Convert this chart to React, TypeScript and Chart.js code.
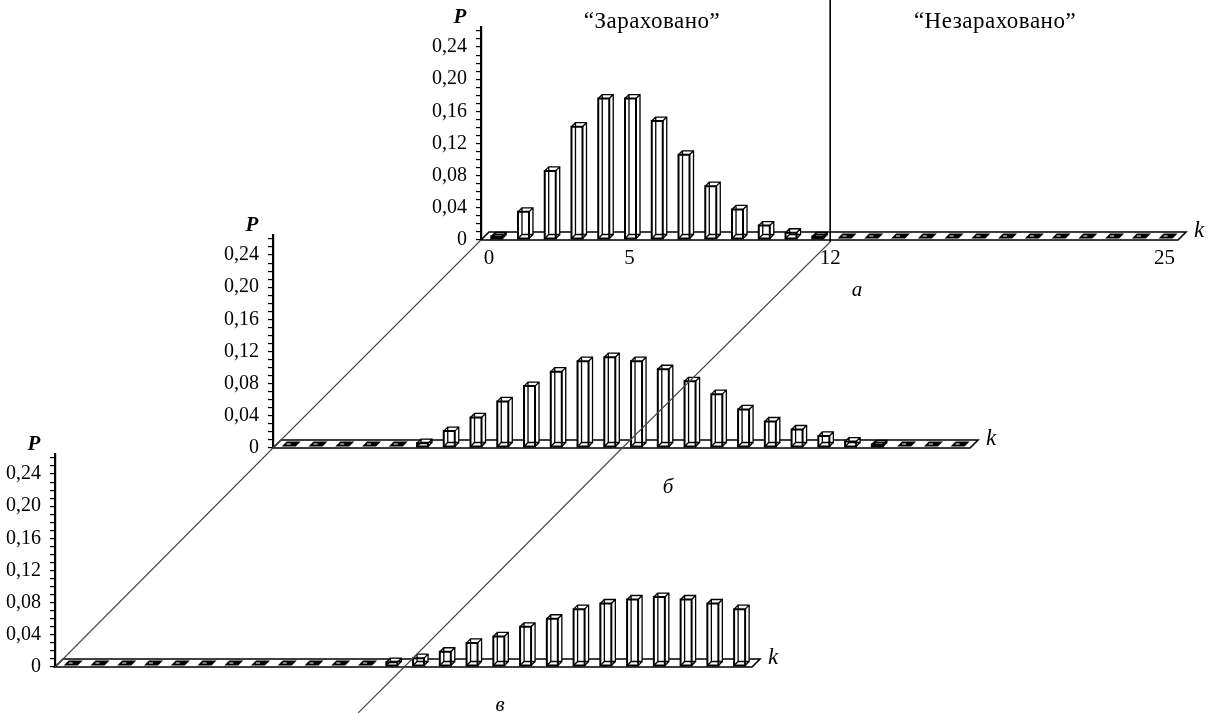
import React, { useEffect, useRef } from 'react';
import { Chart, registerables } from 'chart.js';

Chart.register(...registerables);

// ---------- data ----------
const K_VALUES = [0, 1, 2, 3, 4, 5, 6, 7, 8, 9, 10, 11, 12, 13, 14, 15, 16, 17, 18, 19, 20, 21, 22, 23, 24, 25];

const P_A = [0.004, 0.035, 0.086, 0.141, 0.176, 0.176, 0.148, 0.106, 0.067, 0.038, 0.018, 0.009, 0.002, 0, 0, 0, 0, 0, 0, 0, 0, 0, 0, 0, 0, 0];
const P_B = [0, 0, 0, 0, 0, 0.006, 0.021, 0.038, 0.058, 0.077, 0.095, 0.108, 0.113, 0.108, 0.098, 0.083, 0.067, 0.048, 0.033, 0.023, 0.015, 0.008, 0.003, 0, 0, 0];
const P_V = [0, 0, 0, 0, 0, 0, 0, 0, 0, 0, 0, 0, 0.006, 0.011, 0.019, 0.030, 0.038, 0.050, 0.060, 0.072, 0.079, 0.084, 0.087, 0.084, 0.079, 0.072];

const Y_TICKS = [0, 0.01, 0.02, 0.03, 0.04, 0.05, 0.06, 0.07, 0.08, 0.09, 0.1, 0.11, 0.12, 0.13, 0.14, 0.15, 0.16, 0.17, 0.18, 0.19, 0.2, 0.21, 0.22, 0.23, 0.24, 0.25, 0.26];
const Y_LABELED = [0, 0.04, 0.08, 0.12, 0.16, 0.2, 0.24];
const Y_MAX = 0.265;

const X_TICKS_A = [-0.25, 5, 12.5, 25];
const X_TICK_LABELS_A = ['0', '5', '12', '25'];
const DIVIDER_K = 12.5;

const TITLE_LEFT = '“Зараховано”';
const TITLE_RIGHT = '“Незараховано”';
const PANEL_LABELS = ['а', 'б', 'в'];

// ---------- layout (page coordinates) ----------
const W = 1213;
const H = 713;
const YW = 50;   // y axis box width
const PT = 25;   // padding top
const PR = 45;   // padding right
const XH = 60;   // x axis box height
const CHART_W = 697;
const CHART_H = 213;

const PANELS = [
  { data: P_A, left: 481, base: 240, showX: true, labelPos: [857, 290] },
  { data: P_B, left: 273, base: 448, showX: false, labelPos: [668, 487] },
  { data: P_V, left: 55, base: 667, showX: false, labelPos: [500, 705] },
];

const TITLE_POS = [[652, 22], [995, 22]];
const FONT = "'Liberation Serif', 'Times New Roman', serif";

const box3d = {
  id: 'box3d',
  afterDatasetsDraw(chart: any) {
    const ctx = chart.ctx;
    const ys = chart.scales.y;
    const y0 = ys.getPixelForValue(0);
    const L = chart.chartArea.left;
    const R = chart.chartArea.right;
    const D = 8;
    ctx.save();
    // floor strip
    ctx.beginPath();
    ctx.moveTo(L, y0);
    ctx.lineTo(R, y0);
    ctx.lineTo(R + D, y0 - D);
    ctx.lineTo(L + D, y0 - D);
    ctx.closePath();
    ctx.fillStyle = '#fff';
    ctx.fill();
    ctx.lineWidth = 1.6;
    ctx.strokeStyle = '#000';
    ctx.stroke();

    const meta = chart.getDatasetMeta(0);
    const vals = chart.data.datasets[0].data;
    const w = 11;
    const d = 4;
    meta.data.forEach((el: any, i: number) => {
      const p = el.getProps(['x', 'y'], true);
      const v = vals[i].y;
      const xl = p.x - w / 2 + 1;
      const xr = p.x + w / 2 + 1;
      const yb = y0 - 1.5;
      if (!v) {
        const zw = 14;
        const zl = p.x - zw / 2 + 1;
        const zr = p.x + zw / 2 + 1;
        ctx.beginPath();
        ctx.moveTo(zl, yb);
        ctx.lineTo(zr, yb);
        ctx.lineTo(zr + 5, yb - 5);
        ctx.lineTo(zl + 5, yb - 5);
        ctx.closePath();
        ctx.fillStyle = '#000';
        ctx.fill();
        ctx.beginPath();
        ctx.moveTo(zl + 5, yb - 2.5);
        ctx.lineTo(zl + 9, yb - 2.5);
        ctx.strokeStyle = '#fff';
        ctx.lineWidth = 1;
        ctx.stroke();
        return;
      }
      const yt = Math.min(p.y, yb - 2);
      // silhouette fill
      ctx.beginPath();
      ctx.moveTo(xl, yb);
      ctx.lineTo(xr, yb);
      ctx.lineTo(xr + d, yb - d);
      ctx.lineTo(xr + d, yt - d);
      ctx.lineTo(xl + d, yt - d);
      ctx.lineTo(xl, yt);
      ctx.closePath();
      ctx.fillStyle = '#fff';
      ctx.fill();
      // wireframe
      ctx.strokeStyle = '#000';
      ctx.lineWidth = 1.3;
      ctx.beginPath();
      ctx.rect(xl + d, yt - d, w, yb - yt);
      ctx.moveTo(xl, yt); ctx.lineTo(xl + d, yt - d);
      ctx.moveTo(xr, yt); ctx.lineTo(xr + d, yt - d);
      ctx.moveTo(xl, yb); ctx.lineTo(xl + d, yb - d);
      ctx.moveTo(xr, yb); ctx.lineTo(xr + d, yb - d);
      ctx.stroke();
      ctx.lineWidth = 2;
      ctx.beginPath();
      ctx.rect(xl, yt, w, yb - yt);
      ctx.stroke();
    });
    ctx.restore();
  },
};

function fmtY(v: number) {
  const labeled = Y_LABELED.some((t) => Math.abs(t - v) < 1e-6);
  if (!labeled) return '';
  if (Math.abs(v) < 1e-9) return '0';
  return v.toFixed(2).replace('.', ',');
}

export default function App() {
  const refs = [useRef<HTMLCanvasElement>(null), useRef<HTMLCanvasElement>(null), useRef<HTMLCanvasElement>(null)];
  const overlayRef = useRef<HTMLCanvasElement>(null);

  useEffect(() => {
    const charts: Chart[] = [];
    PANELS.forEach((panel, idx) => {
      const canvas = refs[idx].current!;
      const chart = new Chart(canvas, {
        type: 'bar',
        data: {
          datasets: [
            {
              data: K_VALUES.map((k, i) => ({ x: k, y: panel.data[i] })),
              backgroundColor: 'rgba(0,0,0,0)',
              borderWidth: 0,
            },
          ],
        },
        options: {
          responsive: false,
          animation: false,
          events: [],
          layout: { padding: { left: 0, top: PT, right: PR, bottom: 0 } },
          plugins: { legend: { display: false }, tooltip: { enabled: false } },
          scales: {
            x: {
              type: 'linear',
              min: -0.55,
              max: 25.5,
              offset: false,
              afterFit: (s: any) => { s.height = XH; },
              afterBuildTicks: (s: any) => {
                s.ticks = panel.showX ? X_TICKS_A.map((v) => ({ value: v })) : [];
              },
              grid: { display: false, drawTicks: false, offset: false },
              border: { display: false },
              ticks: {
                display: panel.showX,
                autoSkip: false,
                maxRotation: 0,
                padding: 6,
                color: '#000',
                font: { family: FONT, size: 21 },
                callback: (_v: any, i: number) => X_TICK_LABELS_A[i],
              },
            },
            y: {
              type: 'linear',
              min: 0,
              max: Y_MAX,
              afterFit: (s: any) => { s.width = YW; },
              afterBuildTicks: (s: any) => { s.ticks = Y_TICKS.map((v) => ({ value: v })); },
              grid: { drawOnChartArea: false, drawTicks: true, tickLength: 5, color: '#000', lineWidth: 1.2 },
              border: { display: true, color: '#000', width: 2.2 },
              ticks: {
                autoSkip: false,
                padding: 9,
                color: '#000',
                font: { family: FONT, size: 20 },
                callback: (v: any) => fmtY(Number(v)),
              },
            },
          },
        },
        plugins: [box3d],
      } as any);
      charts.push(chart);
    });

    // overlay: perspective lines and texts
    const oc = overlayRef.current!;
    const ctx = oc.getContext('2d')! as any;
    ctx.clearRect(0, 0, W, H);
    const info = charts.map((c, idx) => {
      const p = PANELS[idx];
      const offX = p.left - YW;
      const offY = p.base - CHART_H - PT;
      const y0 = c.scales.y.getPixelForValue(0) + offY;
      return {
        L: c.chartArea.left + offX,
        R: c.chartArea.right + offX,
        T: c.chartArea.top + offY,
        y0,
        xDiv: c.scales.x.getPixelForValue(DIVIDER_K) + offX,
      };
    });
    const [a, b, v] = info;
    ctx.strokeStyle = '#4a4a4a';
    ctx.lineWidth = 1.1;
    ctx.beginPath();
    ctx.moveTo(v.L, v.y0);
    ctx.lineTo(b.L, b.y0);
    ctx.lineTo(a.L, a.y0);
    ctx.stroke();
    ctx.beginPath();
    ctx.moveTo(v.xDiv - (H - v.y0), H);
    ctx.lineTo(v.xDiv, v.y0);
    ctx.lineTo(b.xDiv, b.y0);
    ctx.lineTo(a.xDiv, a.y0 + 2);
    ctx.stroke();
    ctx.strokeStyle = '#000';
    ctx.lineWidth = 1.6;
    ctx.beginPath();
    ctx.moveTo(a.xDiv, 0);
    ctx.lineTo(a.xDiv, a.y0 + 2);
    ctx.stroke();

    ctx.fillStyle = '#000';
    ctx.textAlign = 'center';
    ctx.textBaseline = 'middle';
    info.forEach((p, idx) => {
      ctx.font = `bold italic 21px ${FONT}`;
      ctx.fillText('P', p.L - 21, p.T - 9);
      ctx.font = `italic 23px ${FONT}`;
      ctx.fillText('k', p.R + 21, p.y0 - 9);
      ctx.font = `italic 21px ${FONT}`;
      const lp = PANELS[idx].labelPos;
      ctx.fillText(PANEL_LABELS[idx], lp[0], lp[1]);
    });
    ctx.font = `23px ${FONT}`;
    ctx.letterSpacing = '0.5px';
    ctx.fillText(TITLE_LEFT, TITLE_POS[0][0], TITLE_POS[0][1]);
    ctx.fillText(TITLE_RIGHT, TITLE_POS[1][0], TITLE_POS[1][1]);
    ctx.letterSpacing = '0px';

    return () => {
      charts.forEach((c) => c.destroy());
    };
  }, []);

  return (
    <div style={{ position: 'absolute', left: 0, top: 0, width: W, height: H, overflow: 'hidden', background: '#fff' }}>
      {PANELS.map((p, idx) => {
        const cw = YW + CHART_W + PR;
        const chh = PT + CHART_H + XH;
        return (
          <canvas
            key={idx}
            ref={refs[idx]}
            width={cw}
            height={chh}
            style={{ position: 'absolute', left: p.left - YW, top: p.base - CHART_H - PT, width: cw, height: chh }}
          />
        );
      })}
      <canvas
        ref={overlayRef}
        width={W}
        height={H}
        style={{ position: 'absolute', left: 0, top: 0, width: W, height: H, pointerEvents: 'none' }}
      />
    </div>
  );
}
